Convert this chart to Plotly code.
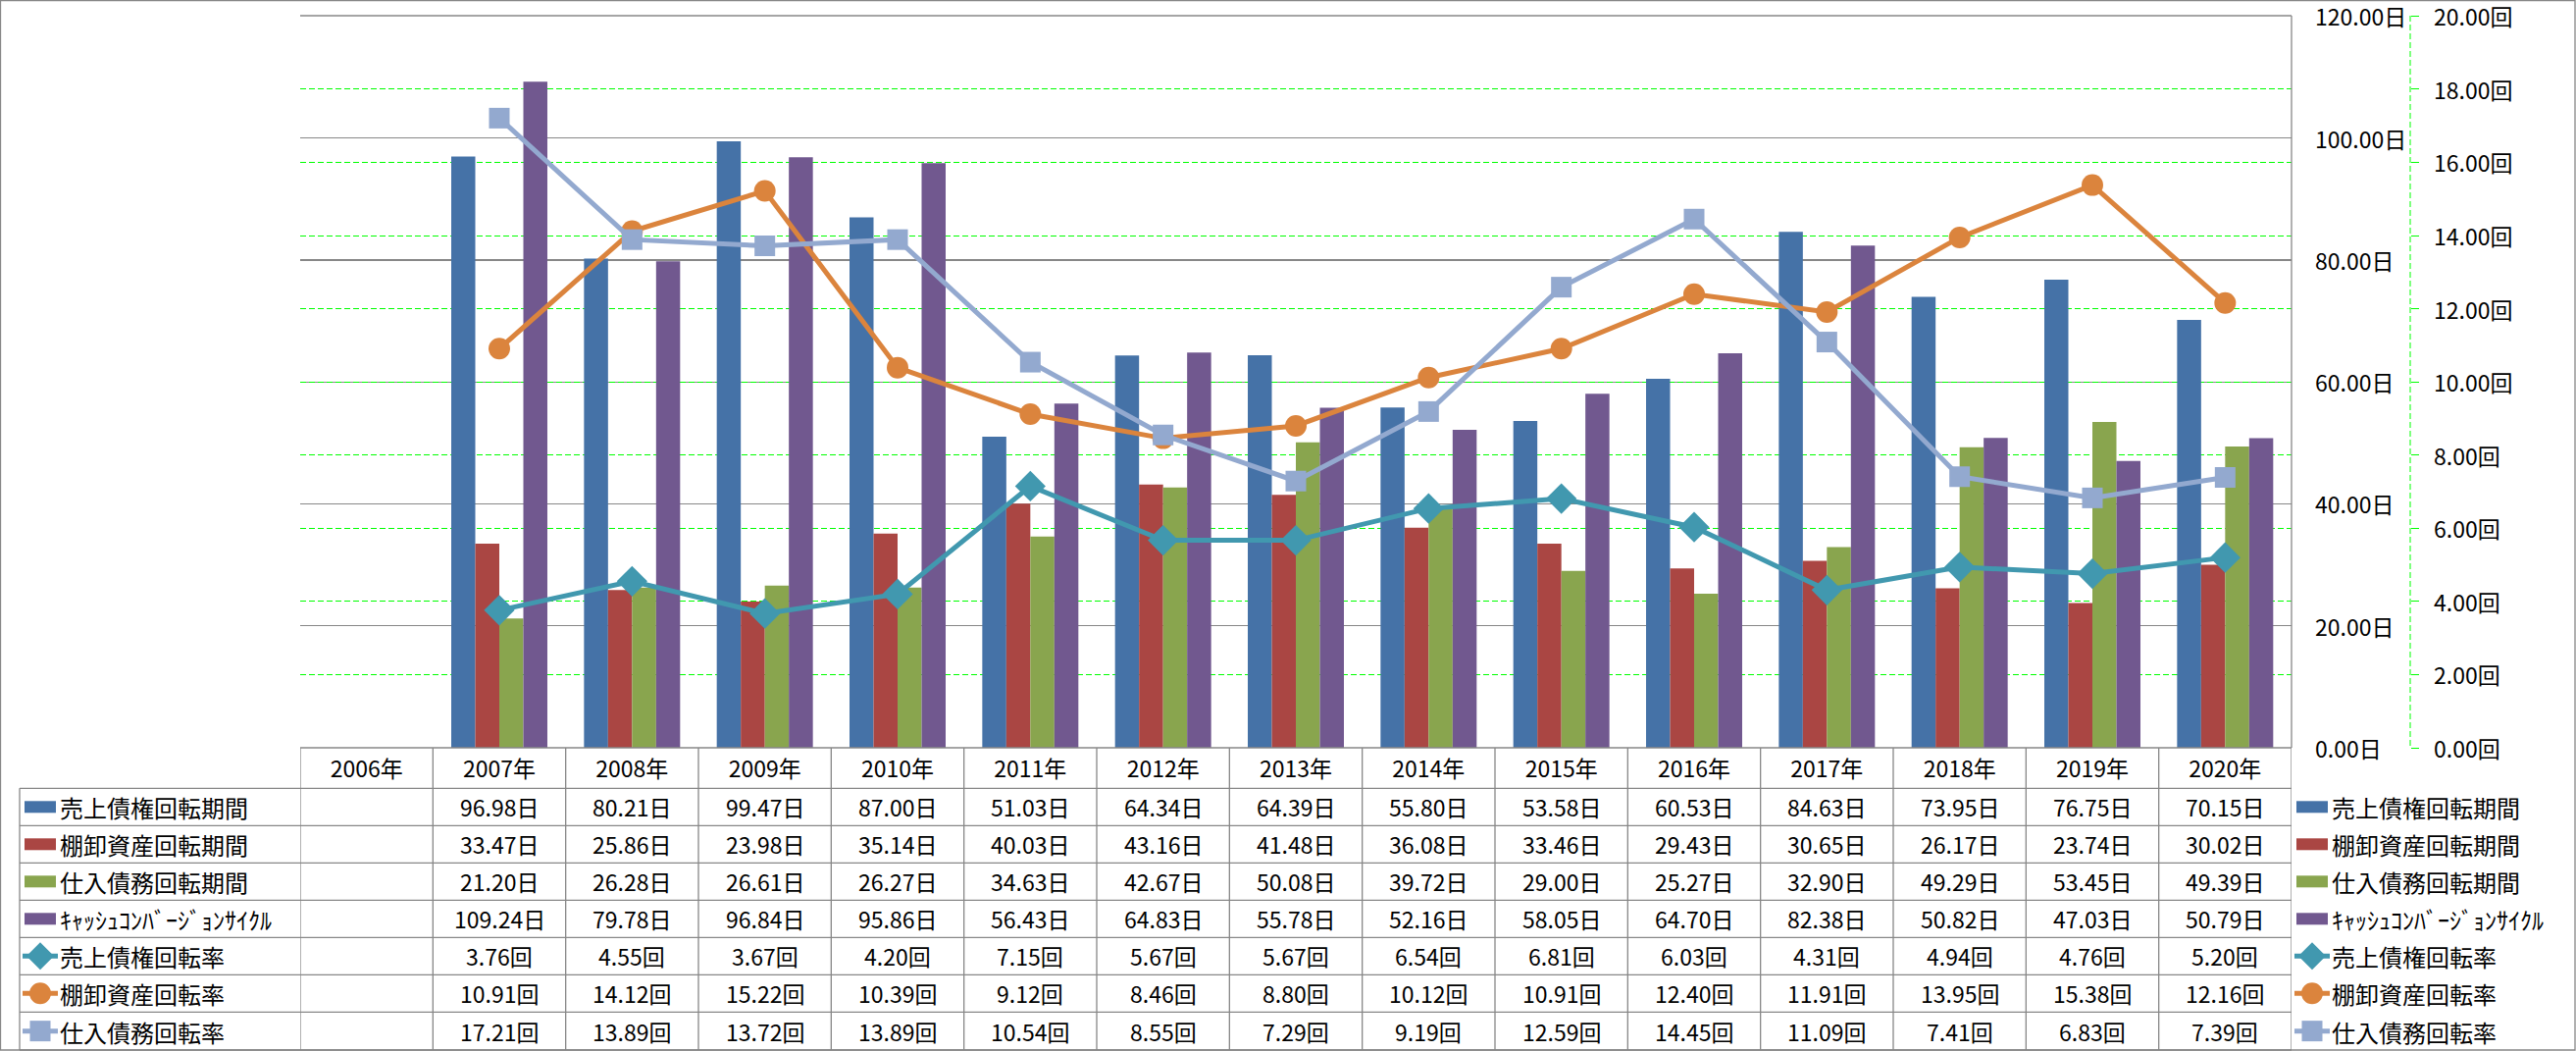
import plotly.graph_objects as go

# ---------------- data ----------------
years = ["2006年", "2007年", "2008年", "2009年", "2010年", "2011年", "2012年", "2013年",
         "2014年", "2015年", "2016年", "2017年", "2018年", "2019年", "2020年"]
data_years = years[1:]  # 2006 has no values

ar_days = [96.98, 80.21, 99.47, 87.00, 51.03, 64.34, 64.39, 55.80, 53.58, 60.53, 84.63, 73.95, 76.75, 70.15]
inv_days = [33.47, 25.86, 23.98, 35.14, 40.03, 43.16, 41.48, 36.08, 33.46, 29.43, 30.65, 26.17, 23.74, 30.02]
ap_days = [21.20, 26.28, 26.61, 26.27, 34.63, 42.67, 50.08, 39.72, 29.00, 25.27, 32.90, 49.29, 53.45, 49.39]
ccc_days = [109.24, 79.78, 96.84, 95.86, 56.43, 64.83, 55.78, 52.16, 58.05, 64.70, 82.38, 50.82, 47.03, 50.79]
ar_turn = [3.76, 4.55, 3.67, 4.20, 7.15, 5.67, 5.67, 6.54, 6.81, 6.03, 4.31, 4.94, 4.76, 5.20]
inv_turn = [10.91, 14.12, 15.22, 10.39, 9.12, 8.46, 8.80, 10.12, 10.91, 12.40, 11.91, 13.95, 15.38, 12.16]
ap_turn = [17.21, 13.89, 13.72, 13.89, 10.54, 8.55, 7.29, 9.19, 12.59, 14.45, 11.09, 7.41, 6.83, 7.39]

bar_names = ["売上債権回転期間", "棚卸資産回転期間", "仕入債務回転期間", "ｷｬｯｼｭｺﾝﾊﾞｰｼﾞｮﾝｻｲｸﾙ"]
line_names = ["売上債権回転率", "棚卸資産回転率", "仕入債務回転率"]
day_suffix = "日"
turn_suffix = "回"
day_ticks = [0, 20, 40, 60, 80, 100, 120]
turn_ticks = [0, 2, 4, 6, 8, 10, 12, 14, 16, 18, 20]

# ---------------- styles ----------------
W, H = 2626, 1071
FONT = "Noto Sans CJK JP"
bar_colors = ["#4572A7", "#AA4643", "#89A54E", "#71588F"]
line_colors = ["#4198AF", "#DB843D", "#93A9CF"]
line_symbols = ["diamond", "circle", "square"]
line_msizes = [24, 22, 21]
GRAY = "#878787"
GREEN = "#00FF00"
FS = 23
PAD = 1.0005  # tiny headroom so the top gridline is kept

def px(x):
    return x / W

def py(y):
    return 1 - y / H

PLOT_L, PLOT_R, PLOT_T, PLOT_B = 306, 2336, 16, 762
AX2_X = 2457
DAY_LABEL_X = 2359
TURN_LABEL_X = 2480
row_lines = [803.3, 841.3, 879.3, 917.3, 955.3, 993.3, 1031.3, 1070]
row_centers = [(row_lines[i] + row_lines[i + 1]) / 2 for i in range(7)]

fig = go.Figure()

bar_series = [ar_days, inv_days, ap_days, ccc_days]
for name, vals, col in zip(bar_names, bar_series, bar_colors):
    fig.add_trace(go.Bar(x=data_years, y=vals, name=name, marker=dict(color=col, line=dict(width=0)),
                         yaxis="y", xaxis="x", showlegend=False))

line_series = [ar_turn, inv_turn, ap_turn]
for name, vals, col, sym, ms in zip(line_names, line_series, line_colors, line_symbols, line_msizes):
    fig.add_trace(go.Scatter(x=data_years, y=vals, name=name, mode="lines+markers",
                             line=dict(color=col, width=5),
                             marker=dict(symbol=sym, size=ms, color=col, line=dict(width=0)),
                             yaxis="y2", xaxis="x", showlegend=False))

shapes = []
annotations = []

def hline(x0, x1, y, color=GRAY, width=1.3, dash=None, layer="above"):
    d = dict(type="line", xref="paper", yref="paper", x0=px(x0), x1=px(x1), y0=py(y), y1=py(y),
             line=dict(color=color, width=width), layer=layer)
    if dash:
        d["line"]["dash"] = dash
    shapes.append(d)

def vline(x, y0, y1, color=GRAY, width=1.3, dash=None):
    d = dict(type="line", xref="paper", yref="paper", x0=px(x), x1=px(x), y0=py(y0), y1=py(y1),
             line=dict(color=color, width=width))
    if dash:
        d["line"]["dash"] = dash
    shapes.append(d)

# outer border
shapes.append(dict(type="rect", xref="paper", yref="paper", x0=px(0.5), x1=px(2625), y0=py(0.5), y1=py(1070),
                   line=dict(color=GRAY, width=1.3)))
# plot area top and right border
hline(PLOT_L, PLOT_R, PLOT_T, layer="below")
vline(PLOT_R, PLOT_T, PLOT_B)
# secondary axis dashed line
vline(AX2_X, PLOT_T, PLOT_B, color=GREEN, width=1, dash="6px,3px")

# data table grid
hline(PLOT_L, PLOT_R, PLOT_B)
for y in row_lines:
    hline(20, PLOT_R, y)
vline(20, row_lines[0], row_lines[-1])
for k in range(len(years) + 1):
    shapes.append(dict(type="line", xref="x", yref="paper", x0=k - 0.5, x1=k - 0.5,
                       y0=py(PLOT_B), y1=py(row_lines[-1]), line=dict(color=GRAY, width=1.3)))

# axis tick labels (left aligned, as in the source); fixed box height keeps them inside the page
for t in day_ticks:
    annotations.append(dict(x=px(DAY_LABEL_X), xref="paper", y=t, yref="y", text=f"{t:.2f}{day_suffix}",
                            showarrow=False, xanchor="left", yanchor="middle", height=26, valign="middle",
                            borderpad=0, font=dict(family=FONT, size=FS, color="black")))
for t in turn_ticks:
    annotations.append(dict(x=px(TURN_LABEL_X), xref="paper", y=t, yref="y2", text=f"{t:.2f}{turn_suffix}",
                            showarrow=False, xanchor="left", yanchor="middle", height=26, valign="middle",
                            borderpad=0, font=dict(family=FONT, size=FS, color="black")))

# table values
all_series = bar_series + line_series
suffixes = [day_suffix] * 4 + [turn_suffix] * 3
for r, (vals, suf) in enumerate(zip(all_series, suffixes)):
    for yr, v in zip(data_years, vals):
        annotations.append(dict(x=yr, xref="x", y=py(row_centers[r]), yref="paper",
                                text=f"{v:.2f}{suf}", showarrow=False, height=30, valign="middle",
                                borderpad=0, font=dict(family=FONT, size=FS, color="black"),
                                xanchor="center", yanchor="middle"))

# legend keys (table left column and right legend)
all_names = bar_names + line_names
def key(x_left, x_text, r):
    yc = row_centers[r]
    if r < 4:
        shapes.append(dict(type="rect", xref="paper", yref="paper", x0=px(x_left + 2), x1=px(x_left + 34),
                           y0=py(yc - 6), y1=py(yc + 6), line=dict(width=0), fillcolor=bar_colors[r]))
    else:
        i = r - 4
        col = line_colors[i]
        shapes.append(dict(type="line", xref="paper", yref="paper", x0=px(x_left), x1=px(x_left + 36),
                           y0=py(yc), y1=py(yc), line=dict(color=col, width=5)))
        cx = x_left + 18
        if i == 0:
            s = 14
            path = (f"M {px(cx - s)},{py(yc)} L {px(cx)},{py(yc - s)} L {px(cx + s)},{py(yc)} "
                    f"L {px(cx)},{py(yc + s)} Z")
            shapes.append(dict(type="path", xref="paper", yref="paper", path=path,
                               fillcolor=col, line=dict(width=0)))
        elif i == 1:
            s = 11
            shapes.append(dict(type="circle", xref="paper", yref="paper", x0=px(cx - s), x1=px(cx + s),
                               y0=py(yc - s), y1=py(yc + s), fillcolor=col, line=dict(width=0)))
        else:
            s = 10.5
            shapes.append(dict(type="rect", xref="paper", yref="paper", x0=px(cx - s), x1=px(cx + s),
                               y0=py(yc - s), y1=py(yc + s), fillcolor=col, line=dict(width=0)))
    annotations.append(dict(x=px(x_text), xref="paper", y=py(yc), yref="paper", text=all_names[r],
                            showarrow=False, xanchor="left", yanchor="middle", height=30, valign="middle",
                            borderpad=0, font=dict(family=FONT, size=FS + 1, color="black")))

for r in range(7):
    key(23, 60, r)
    key(2339, 2376, r)

fig.update_layout(
    width=W, height=H,
    margin=dict(l=0, r=0, t=0, b=0),
    paper_bgcolor="white", plot_bgcolor="white",
    font=dict(family=FONT, size=FS, color="black"),
    barmode="group", bargap=0.276, bargroupgap=0,
    showlegend=False,
    hovermode=False,
    xaxis=dict(domain=[px(PLOT_L), px(PLOT_R)], type="category", categoryorder="array",
               categoryarray=years, range=[-0.5, len(years) - 0.5], showgrid=False, zeroline=False,
               showline=False, ticks="", tickfont=dict(family=FONT, size=FS, color="black"),
               ticklabelstandoff=6),
    yaxis=dict(domain=[py(PLOT_B), py(PLOT_T)], range=[0, day_ticks[-1] * PAD], tickmode="array",
               tickvals=day_ticks, side="right", anchor="x", showticklabels=False, showgrid=True,
               gridcolor=GRAY, gridwidth=1.3, zeroline=False, showline=False, ticks=""),
    yaxis2=dict(overlaying="y", anchor="free", position=px(AX2_X), side="right",
                range=[0, turn_ticks[-1] * PAD], tickmode="array", tickvals=turn_ticks,
                showticklabels=False, showgrid=True, gridcolor=GREEN, griddash="6px,3px", gridwidth=1,
                zeroline=False, showline=False, ticks="outside", ticklen=8, tickcolor=GREEN, tickwidth=1),
    shapes=shapes,
    annotations=annotations,
)

fig.write_html("out.html",
               config={"displayModeBar": False, "staticPlot": True},
               post_script="document.body.style.margin='0';document.body.style.overflow='hidden';"
                           "window.scrollTo(0,0);")
